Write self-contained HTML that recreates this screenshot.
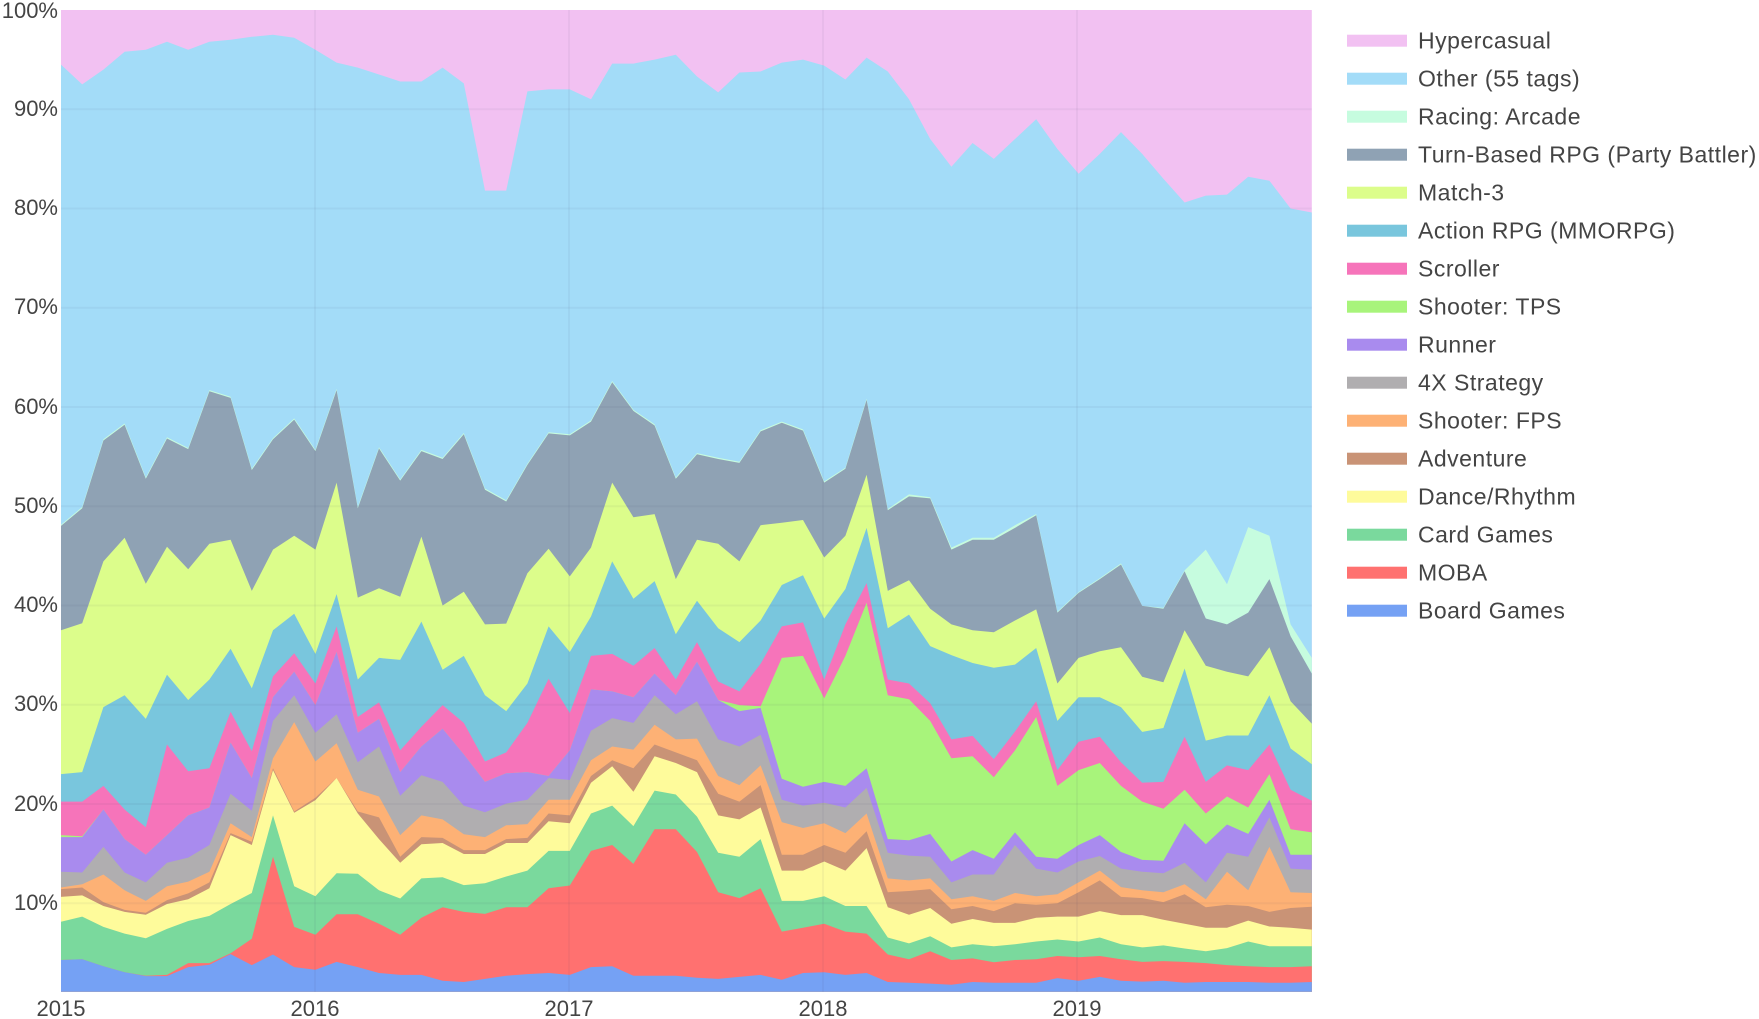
<!DOCTYPE html>
<html><head><meta charset="utf-8">
<style>
html,body{margin:0;padding:0;background:#fff;}
svg{display:block;}
text{font-family:"Liberation Sans",sans-serif;fill:#444;}
</style></head>
<body>
<svg id="c" width="1759" height="1019" viewBox="0 0 1759 1019" xmlns="http://www.w3.org/2000/svg">
<g id="areas"></g>
<g id="grid"></g>
<g id="labels" font-size="22">
<text x="58" y="18" text-anchor="end">100%</text>
<text x="58" y="116" text-anchor="end">90%</text>
<text x="58" y="215" text-anchor="end">80%</text>
<text x="58" y="314" text-anchor="end">70%</text>
<text x="58" y="414" text-anchor="end">60%</text>
<text x="58" y="513" text-anchor="end">50%</text>
<text x="58" y="612" text-anchor="end">40%</text>
<text x="58" y="711" text-anchor="end">30%</text>
<text x="58" y="811" text-anchor="end">20%</text>
<text x="58" y="910" text-anchor="end">10%</text>
<text x="61" y="1016" text-anchor="middle">2015</text>
<text x="315" y="1016" text-anchor="middle">2016</text>
<text x="569" y="1016" text-anchor="middle">2017</text>
<text x="823" y="1016" text-anchor="middle">2018</text>
<text x="1077" y="1016" text-anchor="middle">2019</text>
</g>
<g id="legend" font-size="23" letter-spacing="0.5"></g>
</svg>
<script>
var NS="http://www.w3.org/2000/svg";
function el(t,a,p){var e=document.createElementNS(NS,t);for(var k in a)e.setAttribute(k,a[k]);p.appendChild(e);return e;}
var X=function(i){return 61+i*21.2;};
var BOT=991.7;
function yp(p){var y=10+(100-p)*9.925;return Math.min(y,BOT);}
function yo(o){return yp(60-(o-68)/25.2);}
var D={
board:[1472,1470,1488,1503,1513,1513,1490,1484,1457,1485,1458,1490,1497,1477,1490,1505,1510,1510,1525,1528,
1520,1512,1508,1505,1510,1490,1488,1512,1512,1512,1517,1520,1515,1510,1522,1505,1503,1510,1505,1528,
1530,1532,1535,1528,1530,1530,1530,1518,1525,1515,1525,1527,1525,1530,1528,1528,1528,1530,1530,1528],
moba:[1472,1470,1488,1503,1512,1510,1480,1480,1455,1418,1210,1388,1408,1356,1356,1380,1408,1365,1338,1350,
1355,1338,1338,1290,1283,1195,1180,1228,1140,1140,1198,1300,1315,1290,1400,1390,1380,1400,1405,1458,
1470,1450,1472,1468,1478,1472,1470,1462,1465,1462,1470,1477,1475,1477,1480,1485,1488,1490,1490,1488],
card:[1375,1362,1388,1405,1417,1393,1373,1360,1330,1302,1105,1285,1310,1252,1253,1295,1316,1265,1262,1282,
1277,1260,1245,1195,1195,1100,1080,1132,1042,1052,1108,1200,1210,1165,1322,1322,1310,1335,1335,1415,
1430,1412,1440,1432,1437,1432,1425,1420,1425,1415,1432,1440,1435,1443,1450,1442,1425,1437,1437,1437],
dance:[1312,1308,1335,1350,1357,1330,1318,1290,1155,1180,990,1098,1066,1010,1100,1165,1225,1178,1175,1203,
1203,1175,1175,1120,1125,1022,980,1045,955,972,995,1105,1115,1085,1245,1245,1222,1245,1188,1338,
1357,1340,1380,1368,1378,1378,1365,1362,1362,1348,1358,1358,1370,1380,1390,1390,1372,1387,1390,1395],
adv:[1292,1288,1325,1345,1352,1320,1303,1275,1150,1172,985,1095,1060,1010,1095,1110,1210,1160,1162,1193,
1193,1165,1162,1100,1105,1005,965,985,925,945,965,1050,1070,1028,1205,1205,1180,1200,1145,1300,
1297,1292,1343,1335,1348,1328,1332,1328,1300,1270,1312,1315,1325,1305,1338,1332,1335,1350,1340,1337],
fps:[1288,1280,1255,1295,1322,1285,1273,1248,1125,1160,960,868,968,922,1040,1057,1155,1105,1115,1153,
1160,1130,1127,1065,1065,965,930,938,875,912,910,1005,1028,978,1122,1137,1125,1150,1100,1265,
1270,1265,1318,1310,1322,1302,1310,1305,1275,1245,1287,1295,1300,1280,1318,1248,1295,1185,1300,1302],
x4:[1248,1250,1185,1250,1275,1225,1212,1180,1050,1093,865,800,895,848,970,930,1055,1003,1020,1080,
1097,1075,1065,1010,1015,890,858,870,800,848,815,912,930,900,1065,1080,1073,1085,1035,1200,
1207,1210,1275,1255,1255,1180,1240,1250,1222,1208,1240,1248,1252,1225,1275,1200,1210,1110,1240,1243],
runner:[1160,1160,1090,1165,1205,1155,1105,1085,920,1010,805,740,825,690,895,860,995,930,885,950,
1020,998,995,1005,940,785,790,805,745,800,715,812,840,832,1012,1032,1020,1030,985,1165,
1168,1152,1222,1193,1215,1148,1210,1215,1180,1155,1198,1218,1220,1125,1178,1128,1152,1065,1205,1205],
tps:[1155,1158,1090,1165,1205,1155,1105,1085,920,1010,805,740,825,690,895,860,995,930,885,950,
1020,998,995,1005,940,785,790,805,745,800,715,812,825,828,705,700,808,700,565,800,
810,865,960,955,1008,940,855,1030,990,972,1030,1070,1088,1040,1100,1057,1085,1000,1140,1148],
scroll:[1070,1070,1030,1090,1135,925,993,985,842,942,752,693,770,625,855,818,940,880,825,870,
968,945,870,758,845,700,695,725,680,760,665,765,790,720,625,615,760,620,515,760,
770,820,912,903,962,892,815,990,918,905,970,1022,1020,905,1020,978,990,925,1040,1068],
arpg:[1000,995,830,800,860,748,812,760,682,782,635,593,695,543,760,705,710,613,735,700,
800,840,770,625,690,600,460,555,510,645,560,630,665,610,520,495,605,530,375,630,
595,675,698,718,730,722,680,865,805,805,830,893,883,732,915,902,902,800,935,975],
m3:[635,617,460,400,517,423,480,415,405,535,430,395,430,260,552,528,550,397,572,537,
620,618,490,428,498,425,260,348,340,505,405,415,460,368,362,355,450,395,240,535,
508,580,620,635,640,610,582,770,705,688,678,753,767,635,725,740,752,678,815,872],
tb:[370,325,153,113,250,148,175,28,45,228,150,100,180,25,325,173,255,180,200,137,
278,308,215,135,140,105,5,78,115,250,188,200,210,130,108,128,260,225,50,330,
295,300,430,405,405,375,343,590,540,505,468,573,580,485,605,620,590,505,650,745]
};
D.race=D.tb.slice(0,40).map(function(v){return v-3;}).concat([290,297,425,400,400,368,340,588,538,503,465,573,578,483,430,518,373,395,620,705]);
var other=[94.5,92.5,94,95.8,96,96.8,96,96.8,97,97.3,97.5,97.2,96,94.7,94.2,93.5,92.8,92.8,94.2,92.6,81.8,81.8,91.8,92,92,91,94.6,94.6,95,95.5,93.3,91.7,93.7,93.8,94.7,95,94.4,93,95.2,93.8,91,87,84.2,86.6,85,87,89,86,83.5,85.5,87.7,85.5,83,80.6,81.3,81.4,83.2,82.8,80,79.6];
var areas=document.getElementById('areas');
function area(ys,col){
  var d="M"+X(0)+","+BOT;
  for(var i=0;i<60;i++)d+=" L"+X(i).toFixed(1)+","+ys[i].toFixed(1);
  d+=" L"+X(59)+","+BOT+" Z";
  el('path',{d:d,fill:col},areas);
}
el('rect',{x:61,y:10,width:X(59)-61,height:BOT-10,fill:'#F2C1F2'},areas);
area(other.map(yp),'#A3DCF8');
var order=[['race','#C6FCDF'],['tb','#8FA2B4'],['m3','#DCFD8B'],['arpg','#79C6DD'],['scroll','#F674BA'],['tps','#A8F47B'],['runner','#A98BEE'],['x4','#B0AEB0'],['fps','#FDB175'],['adv','#C99376'],['dance','#FEFB9B'],['card','#7AD99D'],['moba','#FF7170'],['board','#75A1F4']];
order.forEach(function(o){area(D[o[0]].map(yo),o[1]);});
var g=document.getElementById('grid');
for(var p=10;p<=90;p+=10){var y=yp(p);el('line',{x1:61,x2:X(59),y1:y,y2:y,stroke:'rgba(60,60,90,0.05)','stroke-width':2},g);}
[315,569,823,1077].forEach(function(x){el('line',{x1:x,x2:x,y1:10,y2:BOT,stroke:'rgba(60,60,90,0.05)','stroke-width':2},g);});
var leg=[['Hypercasual','#F2C1F2'],['Other (55 tags)','#A3DCF8'],['Racing: Arcade','#C6FCDF'],['Turn-Based RPG (Party Battler)','#8FA2B4'],['Match-3','#DCFD8B'],['Action RPG (MMORPG)','#79C6DD'],['Scroller','#F674BA'],['Shooter: TPS','#A8F47B'],['Runner','#A98BEE'],['4X Strategy','#B0AEB0'],['Shooter: FPS','#FDB175'],['Adventure','#C99376'],['Dance/Rhythm','#FEFB9B'],['Card Games','#7AD99D'],['MOBA','#FF7170'],['Board Games','#75A1F4']];
var lg=document.getElementById('legend');
leg.forEach(function(l,k){var cy=40.7+k*38;
 el('rect',{x:1347,y:cy-6,width:60,height:12,fill:l[1]},lg);
 var t=el('text',{x:1418,y:cy+8},lg);t.textContent=l[0];});
</script>
</body></html>
